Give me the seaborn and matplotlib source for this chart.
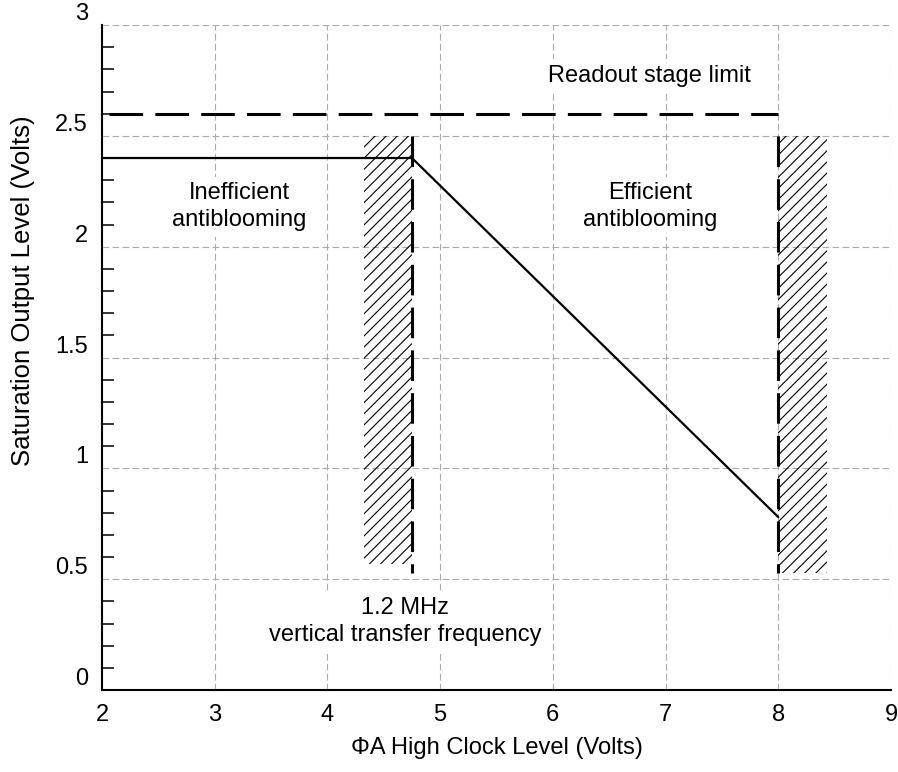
import matplotlib
matplotlib.use("Agg")
import matplotlib.pyplot as plt
import seaborn as sns
import numpy as np
import pandas as pd
from matplotlib.ticker import MultipleLocator
from matplotlib.patches import Rectangle

sns.set_theme(style="white")
plt.rcParams['font.family'] = ['Liberation Sans', 'DejaVu Sans']
plt.rcParams['hatch.linewidth'] = 0.8
for k in ['text.color', 'axes.labelcolor', 'xtick.color', 'ytick.color']:
    plt.rcParams[k] = 'black'

# data
curve_x = [2.0, 4.75, 8.0]
curve_y = [2.4, 2.4, 0.78]
readout_x = [2.0, 8.0]
readout_y = [2.6, 2.6]
limit_x = [4.75, 8.0]
limit_ymin = [0.53, 0.53]
limit_ymax = [2.5, 2.5]
hatch_x0 = [4.32, 8.0]
hatch_x1 = [4.75, 8.43]
hatch_y0 = [0.57, 0.53]
hatch_y1 = [2.5, 2.5]
xticks = [2, 3, 4, 5, 6, 7, 8, 9]
yticks = [0, 0.5, 1, 1.5, 2, 2.5, 3]
ytick_labels = ["0", "0.5", "1", "1.5", "2", "2.5", "3"]

fs = 17

fig = plt.figure(figsize=(8.98, 7.72), dpi=100)
ax = fig.add_axes([0.1136, 0.1062, 0.8786, 0.8614])

df = pd.DataFrame({"x": curve_x, "y": curve_y})
sns.lineplot(data=df, x="x", y="y", ax=ax, color="black", linewidth=1.6, sort=False, zorder=3)

ax.plot(readout_x, readout_y, color="black", linewidth=2.2,
        linestyle=(12.7, (11, 4)), zorder=3)

for x0, x1, y0, y1 in zip(hatch_x0, hatch_x1, hatch_y0, hatch_y1):
    ax.add_patch(Rectangle((x0, y0), x1 - x0, y1 - y0, fill=False,
                           hatch="///", edgecolor="black", linewidth=0, zorder=2.5))

for x, y0, y1 in zip(limit_x, limit_ymin, limit_ymax):
    ax.plot([x, x], [y1, y0], color="black", linewidth=2.2,
            linestyle=(0, (10, 4)), zorder=3)

ax.set_xlim(2, 9)
ax.set_ylim(0, 3)
ax.set_xticks(xticks)
ax.set_yticks(yticks)
ax.set_yticklabels(ytick_labels)
ax.yaxis.set_minor_locator(MultipleLocator(0.1))
ax.tick_params(axis="y", which="minor", direction="in", length=8.6, width=1.1, color="black", left=True)
ax.tick_params(axis="y", which="major", length=0, pad=10, labelsize=fs)
ax.tick_params(axis="x", which="major", length=0, pad=10, labelsize=fs)
for lab in ax.get_yticklabels():
    lab.set_verticalalignment("bottom")

ax.grid(True, which="major", color="#aaaaaa", linestyle=(0, (6, 3)), linewidth=0.8)
ax.set_axisbelow(True)

for s in ["top", "right"]:
    ax.spines[s].set_visible(False)
for s in ["left", "bottom"]:
    ax.spines[s].set_color("black")
    ax.spines[s].set_linewidth(1.5)

ax.set_xlabel("ΦA High Clock Level (Volts)", fontsize=fs, labelpad=8)
ax.set_ylabel("Saturation Output Level (Volts)", fontsize=18.5)
ax.yaxis.set_label_coords(-0.085, 0.60)

box = dict(facecolor="white", edgecolor="none", pad=4)
ax.text(6.86, 2.77, "Readout stage limit", fontsize=fs, ha="center", va="center", bbox=box, zorder=1.5)
ax.text(3.22, 2.18, "Inefficient\nantiblooming", fontsize=fs, ha="center", va="center",
        linespacing=1.3, bbox=box, zorder=1.5)
ax.text(6.86, 2.18, "Efficient\nantiblooming", fontsize=fs, ha="center", va="center",
        linespacing=1.3, bbox=box, zorder=1.5)
ax.text(4.69, 0.31, "1.2 MHz\nvertical transfer frequency", fontsize=fs, ha="center", va="center",
        linespacing=1.3, bbox=box, zorder=1.5)

fig.savefig("out.png", dpi=100, facecolor="white")
